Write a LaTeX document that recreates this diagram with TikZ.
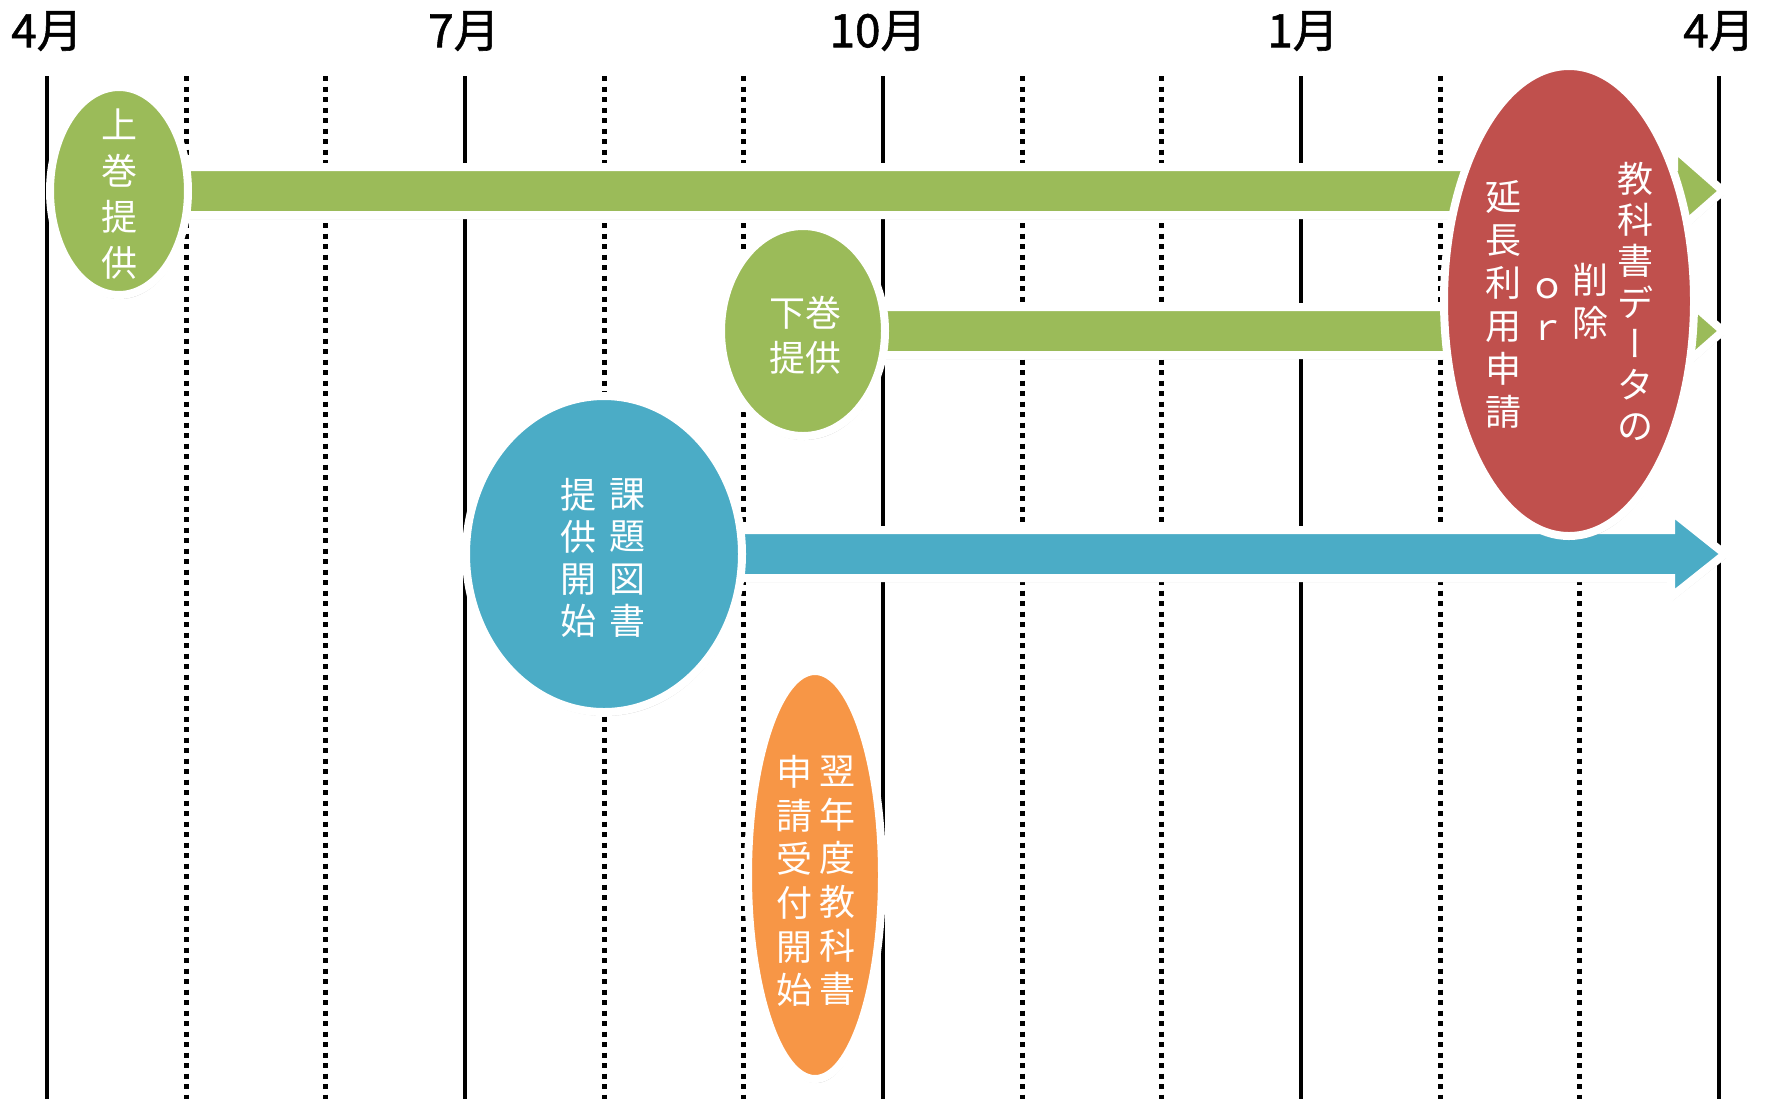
\documentclass[tikz,border=0pt]{standalone}
\usepackage{fontspec}
\newfontfamily\jp{Noto Sans CJK JP}
\newfontfamily\jpm[FakeBold=1.2]{Noto Sans CJK JP}
\newfontfamily\jpv[RawFeature=+vert]{Noto Sans CJK JP}
\usetikzlibrary{shapes.geometric,shadows,calc}
\definecolor{ogreen}{HTML}{9BBB59}
\definecolor{oblue}{HTML}{4BACC6}
\definecolor{ored}{HTML}{C0504D}
\definecolor{oorange}{HTML}{F79646}
\begin{document}
\begin{tikzpicture}[x=0.5pt,y=-0.5pt,
  month/.style={font=\jpm\fontsize{23pt}{23pt}\selectfont, inner sep=0pt},
  solidline/.style={line width=2.2pt},
  dotline/.style={line width=2.2pt, dash pattern=on 2.5pt off 2.75pt},
  softshadow/.style={drop shadow={shadow xshift=0.6pt, shadow yshift=-2pt, opacity=0.18, fill=black}},
  bubble/.style={ellipse, draw=white, line width=4pt, inner sep=0pt, softshadow},
  bar/.style={draw=white, line width=4pt, line join=miter, softshadow},
  vtext/.style={text=white, align=center, inner sep=0pt},
]
\useasboundingbox (0,0) rectangle (1771,1099);
\fill[white] (0,0) rectangle (1771,1099);

% month labels
\node[month] (m0) at (47,31) {4月};
\node[month] (m1) at (464,31) {7月};
\node[month] (m2) at (878,31) {10月};
\node[month] (m3) at (1303,31) {1月};
\node[month] (m4) at (1719,31) {4月};

% grid lines
\foreach \k in {0,3,6,9,12} {
  \draw[solidline] ({47+139.33*\k},76) -- ({47+139.33*\k},1099);
}
\foreach \k in {1,2,4,5,7,8,10,11} {
  \draw[dotline] ({47+139.33*\k},76) -- ({47+139.33*\k},1099);
}

% anchor coordinates
\coordinate (c1) at (119,191);
\coordinate (c2) at (803,331);
\coordinate (c3) at (604,554);
\coordinate (c4) at (815,875);
\coordinate (c5) at (1569,301);
\coordinate (e1) at (1723,191);
\coordinate (e2) at (1723,331);
\coordinate (e3) at (1725,554);

% arrows
\draw[bar, fill=ogreen] ($(c1)+(0,-24)$) -- ($(e1)+(-49,-24)$) -- ($(e1)+(-49,-43)$) -- (e1)
  -- ($(e1)+(-49,43)$) -- ($(e1)+(-49,24)$) -- ($(c1)+(0,24)$) -- cycle;
\draw[bar, fill=ogreen] ($(c2)+(0,-24)$) -- ($(e2)+(-49,-24)$) -- ($(e2)+(-49,-43)$) -- (e2)
  -- ($(e2)+(-49,43)$) -- ($(e2)+(-49,24)$) -- ($(c2)+(0,24)$) -- cycle;
\draw[bar, fill=oblue] ($(c3)+(0,-24)$) -- ($(e3)+(-54,-24)$) -- ($(e3)+(-54,-43)$) -- (e3)
  -- ($(e3)+(-54,43)$) -- ($(e3)+(-54,24)$) -- ($(c3)+(0,24)$) -- cycle;

% bubbles
\node[bubble, fill=ogreen, minimum width=69pt, minimum height=104pt] (g1) at (c1) {};
\node[bubble, fill=ogreen, minimum width=82pt, minimum height=105pt] (g2) at (c2) {};
\node[bubble, fill=oblue, minimum width=138pt, minimum height=158pt] (b1) at (c3) {};
\node[bubble, fill=oorange, minimum width=67pt, minimum height=204pt] (o1) at (c4) {};
\node[bubble, fill=ored, minimum width=125pt, minimum height=235pt] (r1) at (c5) {};

% texts
\node[vtext, font=\jp\fontsize{18pt}{23pt}\selectfont] (t1) at (119,194) {上\\巻\\提\\供};
\node[vtext, font=\jp\fontsize{18pt}{22.5pt}\selectfont] (t2) at (805,335.5) {下巻\\提供};
\node[vtext, font=\jp\fontsize{18pt}{21.1pt}\selectfont] (t3a) at (627.5,558) {課\\題\\図\\書};
\node[vtext, font=\jp\fontsize{18pt}{21.1pt}\selectfont] (t3b) at (578,558) {提\\供\\開\\始};
\node[vtext, font=\jp\fontsize{18pt}{21.8pt}\selectfont] (t4a) at (837.5,881) {翌\\年\\度\\教\\科\\書};
\node[vtext, font=\jp\fontsize{18pt}{21.8pt}\selectfont] (t4b) at (794,881) {申\\請\\受\\付\\開\\始};
\node[vtext, font=\jp\fontsize{18pt}{20.6pt}\selectfont] (t5a) at (1635,301.5) {教\\科\\書\\デ\\{\jpv ー}\\タ\\の};
\node[vtext, font=\jp\fontsize{18pt}{21.5pt}\selectfont] (t5b) at (1590,301.5) {削\\除};
\node[vtext, font=\jp\fontsize{18pt}{21pt}\selectfont] (t5c) at (1547,309) {ｏ\\ｒ};
\node[vtext, font=\jp\fontsize{18pt}{21.5pt}\selectfont] (t5d) at (1503,304.5) {延\\長\\利\\用\\申\\請};
\end{tikzpicture}
\end{document}
